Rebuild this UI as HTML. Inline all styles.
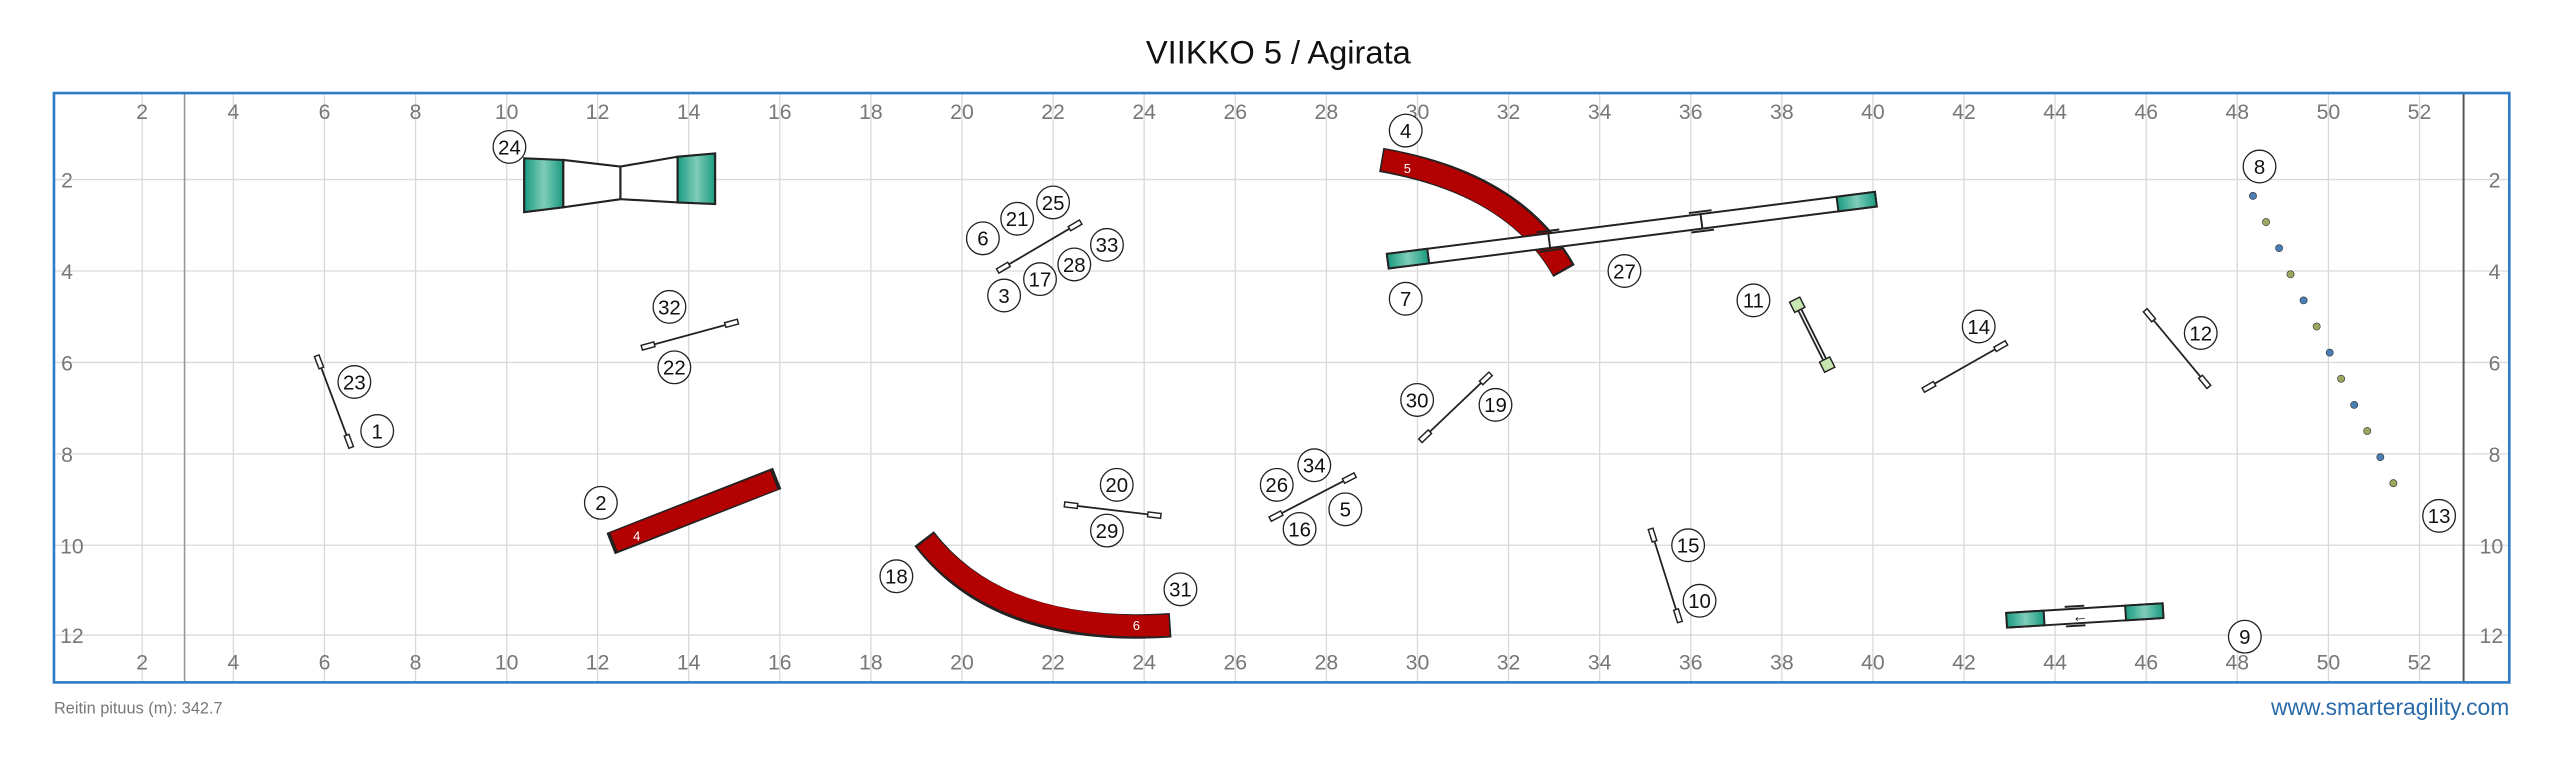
<!DOCTYPE html>
<html><head><meta charset="utf-8"><style>
html,body{margin:0;padding:0;background:#fff;}
svg{display:block;}
text{font-family:"Liberation Sans",Arial,sans-serif;}
.t{fill:#777;font-size:13px;text-anchor:middle;}
.n{font-size:12.5px;text-anchor:middle;fill:#111;}
.c{fill:#fff;stroke:#222;stroke-width:0.8;}
.j line{stroke:#222;stroke-width:1.1;}
.j rect{fill:#fff;stroke:#222;stroke-width:0.9;}
</style></head><body>
<svg width="2560" height="757" viewBox="0 0 1568 463.7" xmlns="http://www.w3.org/2000/svg">
<defs>
<linearGradient id="tg" x1="0" x2="1" y1="0" y2="0"><stop offset="0" stop-color="#1a9a80"/><stop offset="0.5" stop-color="#7fcdb9"/><stop offset="1" stop-color="#1a9a80"/></linearGradient>
</defs>
<text x="783" y="39" style="font-size:20px;text-anchor:middle;fill:#111">VIIKKO 5 / Agirata</text>
<!-- grid -->
<g stroke="#d9d9d9" stroke-width="0.8">
<line x1="87" y1="57" x2="87" y2="418"/><line x1="142.9" y1="57" x2="142.9" y2="418"/><line x1="198.7" y1="57" x2="198.7" y2="418"/><line x1="254.5" y1="57" x2="254.5" y2="418"/><line x1="310.3" y1="57" x2="310.3" y2="418"/><line x1="366" y1="57" x2="366" y2="418"/><line x1="421.8" y1="57" x2="421.8" y2="418"/><line x1="477.6" y1="57" x2="477.6" y2="418"/><line x1="533.4" y1="57" x2="533.4" y2="418"/><line x1="589.2" y1="57" x2="589.2" y2="418"/><line x1="645" y1="57" x2="645" y2="418"/><line x1="700.8" y1="57" x2="700.8" y2="418"/><line x1="756.6" y1="57" x2="756.6" y2="418"/><line x1="812.4" y1="57" x2="812.4" y2="418"/><line x1="868.2" y1="57" x2="868.2" y2="418"/><line x1="924" y1="57" x2="924" y2="418"/><line x1="979.8" y1="57" x2="979.8" y2="418"/><line x1="1035.6" y1="57" x2="1035.6" y2="418"/><line x1="1091.4" y1="57" x2="1091.4" y2="418"/><line x1="1147.2" y1="57" x2="1147.2" y2="418"/><line x1="1203" y1="57" x2="1203" y2="418"/><line x1="1258.8" y1="57" x2="1258.8" y2="418"/><line x1="1314.6" y1="57" x2="1314.6" y2="418"/><line x1="1370.4" y1="57" x2="1370.4" y2="418"/><line x1="1426.2" y1="57" x2="1426.2" y2="418"/><line x1="1482" y1="57" x2="1482" y2="418"/>
<line x1="33" y1="110" x2="1537" y2="110"/><line x1="33" y1="166" x2="1537" y2="166"/><line x1="33" y1="222" x2="1537" y2="222"/><line x1="33" y1="278" x2="1537" y2="278"/><line x1="33" y1="334" x2="1537" y2="334"/><line x1="33" y1="389" x2="1537" y2="389"/>
</g>
<line x1="113" y1="57" x2="113" y2="418" stroke="#999" stroke-width="1"/>
<line x1="1509" y1="57" x2="1509" y2="418" stroke="#555" stroke-width="1.2"/>
<rect x="33" y="57" width="1504" height="361" fill="none" stroke="#2f7bc4" stroke-width="1.6"/>
<!-- tick labels -->
<g class="t">
<text x="87" y="73">2</text><text x="142.9" y="73">4</text><text x="198.7" y="73">6</text><text x="254.5" y="73">8</text><text x="310.3" y="73">10</text><text x="366" y="73">12</text><text x="421.8" y="73">14</text><text x="477.6" y="73">16</text><text x="533.4" y="73">18</text><text x="589.2" y="73">20</text><text x="645" y="73">22</text><text x="700.8" y="73">24</text><text x="756.6" y="73">26</text><text x="812.4" y="73">28</text><text x="868.2" y="73">30</text><text x="924" y="73">32</text><text x="979.8" y="73">34</text><text x="1035.6" y="73">36</text><text x="1091.4" y="73">38</text><text x="1147.2" y="73">40</text><text x="1203" y="73">42</text><text x="1258.8" y="73">44</text><text x="1314.6" y="73">46</text><text x="1370.4" y="73">48</text><text x="1426.2" y="73">50</text><text x="1482" y="73">52</text>
<text x="87" y="410">2</text><text x="142.9" y="410">4</text><text x="198.7" y="410">6</text><text x="254.5" y="410">8</text><text x="310.3" y="410">10</text><text x="366" y="410">12</text><text x="421.8" y="410">14</text><text x="477.6" y="410">16</text><text x="533.4" y="410">18</text><text x="589.2" y="410">20</text><text x="645" y="410">22</text><text x="700.8" y="410">24</text><text x="756.6" y="410">26</text><text x="812.4" y="410">28</text><text x="868.2" y="410">30</text><text x="924" y="410">32</text><text x="979.8" y="410">34</text><text x="1035.6" y="410">36</text><text x="1091.4" y="410">38</text><text x="1147.2" y="410">40</text><text x="1203" y="410">42</text><text x="1258.8" y="410">44</text><text x="1314.6" y="410">46</text><text x="1370.4" y="410">48</text><text x="1426.2" y="410">50</text><text x="1482" y="410">52</text>
<text x="41" y="115">2</text><text x="41" y="171">4</text><text x="41" y="227">6</text><text x="41" y="283">8</text><text x="44" y="339">10</text><text x="44" y="394">12</text>
<text x="1528" y="115">2</text><text x="1528" y="171">4</text><text x="1528" y="227">6</text><text x="1528" y="283">8</text><text x="1526" y="339">10</text><text x="1526" y="394">12</text>
</g>
<!-- tunnel 24 (double) -->
<g stroke="#222" stroke-width="1.3">
<polygon points="321,97 345,98 345,127 321,130" fill="url(#tg)"/>
<polygon points="345,98 380,102 380,122 345,127" fill="#fff"/>
<polygon points="380,102 415,96 415,124 380,122" fill="#fff"/>
<polygon points="415,96 438,94 438,125 415,124" fill="url(#tg)"/>
</g>
<!-- red tunnels -->
<line x1="374" y1="333" x2="476" y2="293" stroke="#222" stroke-width="14"/>
<line x1="376" y1="332" x2="474" y2="294" stroke="#b30000" stroke-width="12"/>
<text x="390" y="331" style="font-size:8px;fill:#fff;text-anchor:middle">4</text>
<path d="M566,330 Q612,390 717,383" fill="none" stroke="#222" stroke-width="15"/>
<path d="M567,331 Q613,388 716,383" fill="none" stroke="#b30000" stroke-width="13"/>
<text x="696" y="386" style="font-size:8px;fill:#fff;text-anchor:middle">6</text>
<path d="M846,98 Q928,112 958,166" fill="none" stroke="#222" stroke-width="15"/>
<path d="M847,98 Q927,113 957,165" fill="none" stroke="#b30000" stroke-width="13"/>
<text x="862" y="106" style="font-size:8px;fill:#fff;text-anchor:middle">5</text>
<!-- dog walk -->
<g transform="translate(999.5,141) rotate(-7.24)" stroke="#222" stroke-width="1.2">
<rect x="-150.7" y="-4.5" width="301.4" height="9" fill="#fff"/>
<rect x="-150.7" y="-4.5" width="25" height="9" fill="url(#tg)"/>
<rect x="127" y="-4.5" width="23.7" height="9" fill="url(#tg)"/>
<line x1="-51" y1="-4.5" x2="-51" y2="4.5"/><line x1="43" y1="-4.5" x2="43" y2="4.5"/>
<line x1="-58" y1="-6" x2="-44" y2="-6"/><line x1="-58" y1="6" x2="-44" y2="6"/>
<line x1="36" y1="-6" x2="50" y2="-6"/><line x1="36" y1="6" x2="50" y2="6"/>
</g>
<!-- seesaw 9 -->
<g transform="translate(1277,377) rotate(-3.5)" stroke="#222" stroke-width="1.2">
<rect x="-48" y="-4.5" width="96" height="9" fill="#fff"/>
<rect x="-48" y="-4.5" width="23" height="9" fill="url(#tg)"/>
<rect x="25" y="-4.5" width="23" height="9" fill="url(#tg)"/>
<line x1="-12" y1="-6" x2="0" y2="-6"/><line x1="-12" y1="6" x2="0" y2="6"/>
<text x="-3" y="3.5" stroke="none" style="font-size:10px;fill:#222;text-anchor:middle">←</text>
</g>
<!-- jumps -->
<g class="j">
<g transform="translate(204.5,246) rotate(69.4)"><line x1="-30" y1="0" x2="30" y2="0"/><rect x="-30" y="-1.5" width="8" height="3"/><rect x="22" y="-1.5" width="8" height="3"/></g>
<g transform="translate(422.5,205) rotate(-15.2)"><line x1="-30.5" y1="0" x2="30.5" y2="0"/><rect x="-30.5" y="-1.5" width="8" height="3"/><rect x="22.5" y="-1.5" width="8" height="3"/></g>
<g transform="translate(636.5,151) rotate(-30.5)"><line x1="-29.5" y1="0" x2="29.5" y2="0"/><rect x="-29.5" y="-1.5" width="8" height="3"/><rect x="21.5" y="-1.5" width="8" height="3"/></g>
<g transform="translate(681.5,312.5) rotate(6.8)"><line x1="-29.7" y1="0" x2="29.7" y2="0"/><rect x="-29.7" y="-1.5" width="8" height="3"/><rect x="21.7" y="-1.5" width="8" height="3"/></g>
<g transform="translate(804,304.5) rotate(-27.4)"><line x1="-29.3" y1="0" x2="29.3" y2="0"/><rect x="-29.3" y="-1.5" width="8" height="3"/><rect x="21.3" y="-1.5" width="8" height="3"/></g>
<g transform="translate(891.5,249.5) rotate(-43.6)"><line x1="-29.7" y1="0" x2="29.7" y2="0"/><rect x="-29.7" y="-1.5" width="8" height="3"/><rect x="21.7" y="-1.5" width="8" height="3"/></g>
<g transform="translate(1203.5,224.5) rotate(-29.6)"><line x1="-29.3" y1="0" x2="29.3" y2="0"/><rect x="-29.3" y="-1.5" width="8" height="3"/><rect x="21.3" y="-1.5" width="8" height="3"/></g>
<g transform="translate(1333.5,213.5) rotate(50.3)"><line x1="-30.5" y1="0" x2="30.5" y2="0"/><rect x="-30.5" y="-1.5" width="8" height="3"/><rect x="22.5" y="-1.5" width="8" height="3"/></g>
<g transform="translate(1020,352.5) rotate(72.5)"><line x1="-29.9" y1="0" x2="29.9" y2="0"/><rect x="-29.9" y="-1.5" width="8" height="3"/><rect x="21.9" y="-1.5" width="8" height="3"/></g>
<g transform="translate(1110,205) rotate(63.4)"><line x1="-18" y1="-1" x2="18" y2="-1"/><line x1="-18" y1="1" x2="18" y2="1"/><rect x="-24" y="-3.5" width="7" height="7" style="fill:#c8e6b0"/><rect x="17" y="-3.5" width="7" height="7" style="fill:#c8e6b0"/></g>
</g>
<!-- weave -->
<g stroke="#333" stroke-width="0.4">
<circle cx="1380" cy="120" r="2.2" fill="#4a7fb5"/><circle cx="1388" cy="136" r="2.2" fill="#9aa860"/><circle cx="1396" cy="152" r="2.2" fill="#4a7fb5"/><circle cx="1403" cy="168" r="2.2" fill="#9aa860"/><circle cx="1411" cy="184" r="2.2" fill="#4a7fb5"/><circle cx="1419" cy="200" r="2.2" fill="#9aa860"/><circle cx="1427" cy="216" r="2.2" fill="#4a7fb5"/><circle cx="1434" cy="232" r="2.2" fill="#9aa860"/><circle cx="1442" cy="248" r="2.2" fill="#4a7fb5"/><circle cx="1450" cy="264" r="2.2" fill="#9aa860"/><circle cx="1458" cy="280" r="2.2" fill="#4a7fb5"/><circle cx="1466" cy="296" r="2.2" fill="#9aa860"/>
</g>
<!-- number labels -->
<g>
<circle class="c" cx="312" cy="90" r="10"/><text class="n" x="312" y="94.5">24</text>
<circle class="c" cx="231" cy="264" r="10"/><text class="n" x="231" y="268.5">1</text>
<circle class="c" cx="217" cy="234" r="10"/><text class="n" x="217" y="238.5">23</text>
<circle class="c" cx="410" cy="188" r="10"/><text class="n" x="410" y="192.5">32</text>
<circle class="c" cx="413" cy="225" r="10"/><text class="n" x="413" y="229.5">22</text>
<circle class="c" cx="602" cy="146" r="10"/><text class="n" x="602" y="150.5">6</text>
<circle class="c" cx="623" cy="134" r="10"/><text class="n" x="623" y="138.5">21</text>
<circle class="c" cx="645" cy="124" r="10"/><text class="n" x="645" y="128.5">25</text>
<circle class="c" cx="678" cy="150" r="10"/><text class="n" x="678" y="154.5">33</text>
<circle class="c" cx="658" cy="162" r="10"/><text class="n" x="658" y="166.5">28</text>
<circle class="c" cx="637" cy="171" r="10"/><text class="n" x="637" y="175.5">17</text>
<circle class="c" cx="615" cy="181" r="10"/><text class="n" x="615" y="185.5">3</text>
<circle class="c" cx="368" cy="308" r="10"/><text class="n" x="368" y="312.5">2</text>
<circle class="c" cx="549" cy="353" r="10"/><text class="n" x="549" y="357.5">18</text>
<circle class="c" cx="723" cy="361" r="10"/><text class="n" x="723" y="365.5">31</text>
<circle class="c" cx="684" cy="297" r="10"/><text class="n" x="684" y="301.5">20</text>
<circle class="c" cx="678" cy="325" r="10"/><text class="n" x="678" y="329.5">29</text>
<circle class="c" cx="782" cy="297" r="10"/><text class="n" x="782" y="301.5">26</text>
<circle class="c" cx="805" cy="285" r="10"/><text class="n" x="805" y="289.5">34</text>
<circle class="c" cx="824" cy="312" r="10"/><text class="n" x="824" y="316.5">5</text>
<circle class="c" cx="796" cy="324" r="10"/><text class="n" x="796" y="328.5">16</text>
<circle class="c" cx="868" cy="245" r="10"/><text class="n" x="868" y="249.5">30</text>
<circle class="c" cx="916" cy="248" r="10"/><text class="n" x="916" y="252.5">19</text>
<circle class="c" cx="861" cy="80" r="10"/><text class="n" x="861" y="84.5">4</text>
<circle class="c" cx="861" cy="183" r="10"/><text class="n" x="861" y="187.5">7</text>
<circle class="c" cx="995" cy="166" r="10"/><text class="n" x="995" y="170.5">27</text>
<circle class="c" cx="1074" cy="184" r="10"/><text class="n" x="1074" y="188.5">11</text>
<circle class="c" cx="1212" cy="200" r="10"/><text class="n" x="1212" y="204.5">14</text>
<circle class="c" cx="1348" cy="204" r="10"/><text class="n" x="1348" y="208.5">12</text>
<circle class="c" cx="1384" cy="102" r="10"/><text class="n" x="1384" y="106.5">8</text>
<circle class="c" cx="1494" cy="316" r="10"/><text class="n" x="1494" y="320.5">13</text>
<circle class="c" cx="1034" cy="334" r="10"/><text class="n" x="1034" y="338.5">15</text>
<circle class="c" cx="1041" cy="368" r="10"/><text class="n" x="1041" y="372.5">10</text>
<circle class="c" cx="1375" cy="390" r="10"/><text class="n" x="1375" y="394.5">9</text>
</g>
<text x="33" y="437" style="font-size:10px;fill:#777">Reitin pituus (m): 342.7</text>
<text x="1537" y="438" style="font-size:14px;fill:#2a6aa8;text-anchor:end">www.smarteragility.com</text>
</svg>
</body></html>
